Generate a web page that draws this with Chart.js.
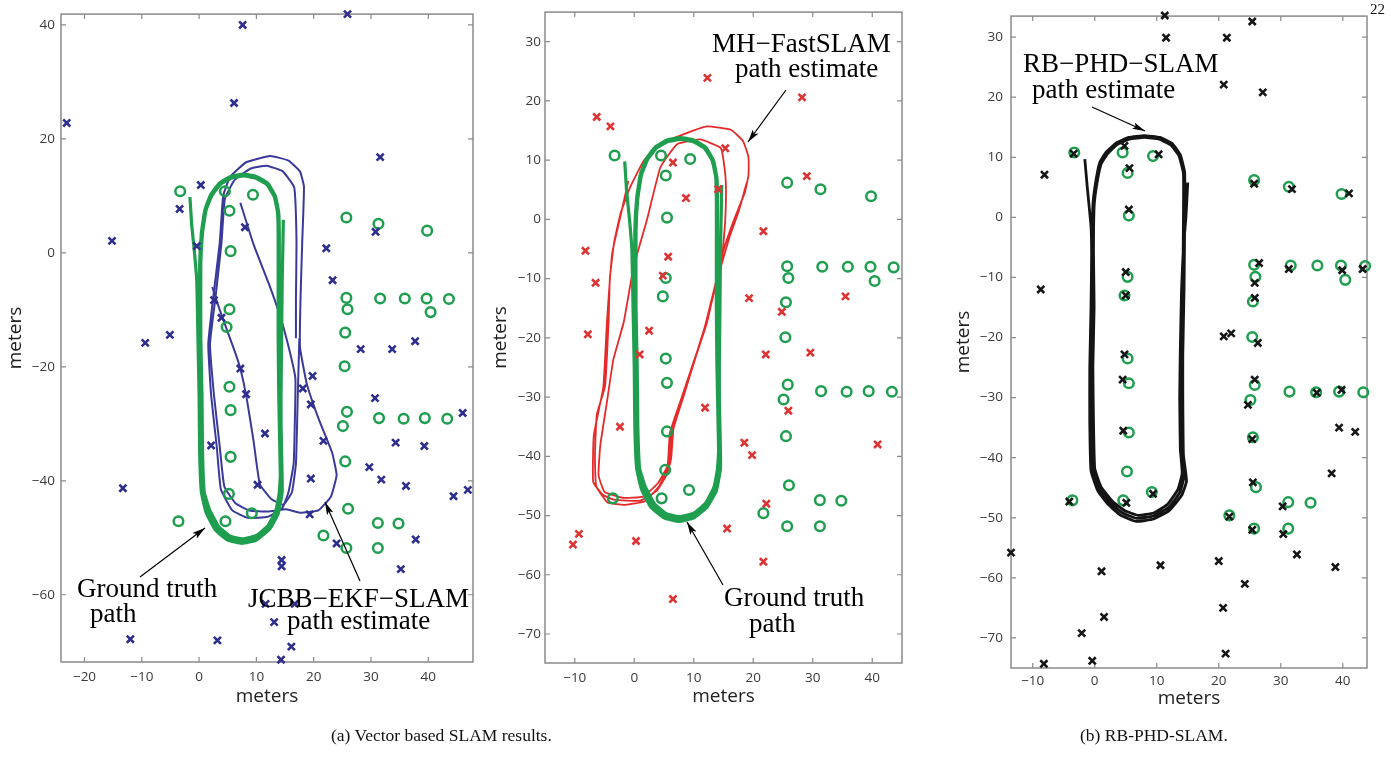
<!DOCTYPE html>
<html>
<head>
<meta charset="utf-8">
<script src="https://cdn.jsdelivr.net/npm/chart.js"></script>
<style>
  body { margin: 0; background: #fff; width: 1391px; height: 758px; overflow: hidden; position: relative; font-family: "Liberation Serif", serif; }
  .layer { position: absolute; left: 0; top: 0; width: 1391px; height: 758px; }
  .note { position: absolute; font-size: 27px; line-height: 27px; white-space: nowrap; color: #000; }
  .cap { position: absolute; font-size: 17.5px; line-height: 17.5px; white-space: nowrap; color: #111; }
</style>
</head>
<body>
<div class="layer"><canvas id="p1"></canvas></div>
<div class="layer"><canvas id="p2"></canvas></div>
<div class="layer"><canvas id="p3"></canvas></div>

<svg class="layer" width="1391" height="758">
  <defs>
    <marker id="ah" markerWidth="13" markerHeight="7" refX="13" refY="3.5" orient="auto" markerUnits="userSpaceOnUse">
      <path d="M0,0 L13,3.5 L0,7 L3,3.5 z" fill="#000"/>
    </marker>
  </defs>
  <line x1="140" y1="577" x2="205" y2="528" stroke="#000" stroke-width="1.2" marker-end="url(#ah)"/>
  <line x1="360" y1="581" x2="325" y2="502" stroke="#000" stroke-width="1.2" marker-end="url(#ah)"/>
  <line x1="786" y1="90" x2="748" y2="142" stroke="#000" stroke-width="1.2" marker-end="url(#ah)"/>
  <line x1="723" y1="585" x2="687" y2="522" stroke="#000" stroke-width="1.2" marker-end="url(#ah)"/>
  <line x1="1092" y1="107" x2="1145" y2="131" stroke="#000" stroke-width="1.2" marker-end="url(#ah)"/>
</svg>

<div class="note" style="left:77px;top:575px">Ground truth</div>
<div class="note" style="left:90px;top:600px">path</div>
<div class="note" style="left:248px;top:585px">JCBB&#8722;EKF&#8722;SLAM</div>
<div class="note" style="left:287px;top:607px">path estimate</div>
<div class="note" style="left:712px;top:30px">MH&#8722;FastSLAM</div>
<div class="note" style="left:735px;top:55px">path estimate</div>
<div class="note" style="left:724px;top:584px">Ground truth</div>
<div class="note" style="left:749px;top:610px">path</div>
<div class="note" style="left:1023px;top:50px">RB&#8722;PHD&#8722;SLAM</div>
<div class="note" style="left:1032px;top:76px">path estimate</div>

<div class="cap" style="left:1370px;top:2px;font-size:15px;line-height:15px">22</div>
<div class="cap" style="left:331px;top:727px">(a) Vector based SLAM results.</div>
<div class="cap" style="left:1080px;top:727px">(b) RB-PHD-SLAM.</div>

<script>
// ground truth landmarks (same in every panel)
const lmX = [-3.3, 4.5, 9.4, 5.3, 5.5, 25.7, 31.3, 39.8, 25.7, 25.9, 31.6, 35.9, 39.7, 43.6, 40.4, 5.3, 4.8, 25.5, 25.4, 5.3,
  5.5, 25.8, 25.1, 31.4, 35.7, 39.4, 43.3, 5.5, 25.5, 5.2, 9.2, 4.6, -3.6, 26.0, 31.2, 34.8, 21.7, 25.7, 31.2];
const lmY = [10.8, 10.8, 10.2, 7.4, 0.3, 6.2, 5.1, 3.9, -7.9, -9.9, -8.0, -8.0, -8.0, -8.1, -10.4, -9.9, -13.0, -14.0, -19.9, -23.5,
  -27.6, -27.9, -30.4, -29.0, -29.1, -29.0, -29.1, -35.8, -36.6, -42.3, -45.7, -47.1, -47.1, -44.9, -47.4, -47.5, -49.6, -51.8, -51.8];

// ground truth path
const gtX = [-1.6, -1.3, -0.8, -0.4, -0.2, 0, 0.1, 0.4, 1.2, 2.8, 5, 7.5, 10, 12.3, 13.8, 14.5, 14.4, 14.2, 14.1, 14, 14, 13.9, 13.3, 12, 10, 7.8, 5.5, 3.5, 2, 1, 0.4, 0.1,
  0.1, 0.3, 0.4, 0.7, 1.5, 3.1, 5.2, 7.5, 10, 12.1, 13.6, 14.2, 14.1, 13.9, 13.8, 13.8, 13.8, 13.7, 13.1, 11.8, 9.9, 7.8, 5.6, 3.7, 2.2, 1.2, 0.6, 0.3,
  0.3, 0.5, 0.6, 0.9, 1.8, 3.4, 5.4, 7.6, 10, 12, 13.4, 14, 14.3, 14.3, 14.4, 14.5, 14.6, 14.7];
const gtY = [9.8, 5, 0, -5, -15, -25, -35, -42, -45.5, -48.6, -50.4, -51, -50.4, -48.5, -45.8, -42, -35, -25, -15, -5, 3, 7, 10, 12.2, 13.4, 13.8, 13.4, 12.2, 10.2, 7.5, 3.5, -2,
  -15, -25, -35, -42, -45.2, -48.3, -50, -50.6, -50, -48.2, -45.5, -42, -35, -25, -15, -5, 3, 7, 9.9, 12, 13.1, 13.5, 13.1, 12, 10, 7.4, 3.5, -2,
  -15, -25, -35, -42, -45, -48, -49.7, -50.2, -49.6, -47.9, -45.2, -42, -35, -25, -15, -5, 0, 5.8];

// JCBB-EKF-SLAM (panel 1)
const jcbbLmX = [7.6, 25.9, 6.1, -23.1, 31.6, 0.3, -3.4, 8.0, 30.8, -15.2, -0.4, 22.2, 23.3, 2.6, 3.9, -5.1, -9.4, 28.2, 33.7, 37.7,
  7.2, 19.8, 8.2, 18.1, 19.5, 30.7, 46.0, 11.5, 2.1, 34.3, 39.3, 21.7, 29.7, 31.8, 36.1, 19.5, 10.2, -13.3, 44.4, 46.9,
  19.3, 37.8, 24.0, 14.4, 14.4, 35.2, 11.6, 16.7, 13.1, -12.0, 3.2, 16.1, 14.3];
const jcbbLmY = [40.0, 41.9, 26.3, 22.8, 16.8, 11.9, 7.7, 4.5, 3.7, 2.1, 1.2, 0.8, -4.8, -8.3, -11.4, -14.4, -15.8, -16.9, -16.9, -15.5,
  -20.3, -21.6, -24.8, -23.8, -26.6, -25.5, -28.1, -31.7, -33.8, -33.3, -33.9, -33.0, -37.6, -39.8, -40.9, -39.6, -40.7, -41.3, -42.7, -41.6,
  -45.9, -50.3, -51.0, -53.9, -55.0, -55.5, -61.6, -61.6, -64.8, -67.8, -68.0, -69.1, -71.4];
const jcbbPathX = [7.2, 9.5, 12.2, 14.1, 15.5, 16.8, 16.7, 16.5, 15.6, 14.5, 12, 8.5, 5.8, 3.8, 3.1, 2.1, 1.6, 2.5, 3.6, 4.2, 5.4, 8.2, 12.4, 15.6, 17.6, 18.3, 18, 17.7,
  17.6, 18.8, 21, 23.2, 24, 23, 20.8, 17.6, 15.2, 12, 8.8, 6.4, 4.4, 3.6, 2.6, 1.9, 2.9, 3.9, 4.5, 6.2, 9, 11.8, 14.6, 16.6, 17, 16.9, 16.9];
const jcbbPathY = [8.8, 1.5, -5.5, -11, -16, -22, -30, -37, -42, -44.8, -46.3, -46.5, -45.2, -41.5, -34.2, -25, -16, -7.5, 1.7, 10, 13.3, 15.9, 17, 16.2, 14.3, 11.6, 2, -8,
  -16.5, -23, -29.5, -35, -39, -42.8, -45.2, -45.6, -45, -45.4, -45.2, -44, -41, -34, -25, -16, -7.5, 1.7, 9.5, 12.8, 14.8, 15.3, 14.3, 11.5, 2, -8, -15];
const jcbbPath2X = [2.3, 3.6, 5, 6.3, 7.2, 8.3, 9.5, 10.6, 12.6, 14.7, 16.2, 16.9, 17.1, 17.3, 17.5];
const jcbbPath2Y = [-6, -10, -13.9, -17.5, -20.3, -25.5, -33, -40.6, -43.2, -44.2, -42, -37, -30, -22, -15];

// MH-FastSLAM (panel 2)
const mhLmX = [12.3, 28.2, -6.3, -4.0, 15.3, 6.5, 29.0, 8.7, 21.7, -8.2, 5.7, 4.8, 19.3, 35.5, 24.8, -7.8, 2.5, -6.5, 14.1,
  0.9, 22.1, 29.6, 25.9, 11.9, -2.4, 18.5, 19.8, 40.9, 22.2, 15.6, -9.3, -10.3, 0.3, 21.7, 6.5];
const mhLmY = [23.9, 20.6, 17.3, 15.7, 12.0, 9.6, 7.3, 3.6, -2.0, -5.3, -6.3, -9.5, -13.3, -13.0, -15.6, -19.4, -18.8, -10.7, 5.1,
  -22.8, -22.8, -22.5, -32.3, -31.8, -35.0, -37.7, -39.8, -38.0, -48.0, -52.2, -53.1, -54.9, -54.3, -57.8, -64.1];
const mhPathX = [-1.0, -2.1, -3.7, -4.6, -5.2, -6.8, -6.9, -5.3, -3.5, 1, 3.8, 5.5, 6.2, 6.6, 8.4, 10.4, 12.2, 15, 16.8, 18.6, 19.2, 19.2, 18.3, 16.3, 12.2, 8.9, 4.4, 1.6, -0.7,
  -2.3, -3.4, -4.1, -4.3, -4.9, -6.3, -6.6, -6.4, -4.5, -1.5, 1.8, 4.2, 5.8, 6.3, 8.2, 10.2, 11.9, 13.5, 14.8, 15.3, 15.4, 15, 14.5, 11.1, 7.2, 4.4,
  2.1, -0.1, -1.8, -3.5, -4.6, -5.7, -6, -5, -2, 1.5, 4, 5.6, 6, 8, 10, 12, 14, 16, 17.6, 18.9];
const mhPathY = [6.5, 1.5, -5.7, -17.5, -28.3, -36.5, -44.3, -46.5, -47.3, -47.5, -45.8, -43, -40.4, -35.3, -29.5, -23, -17.5, -5.2, 0, 4.6, 7.5, 10.5, 13.2, 15.1, 15.7, 14.6, 12.7, 9.9, 5.4,
  1, -4, -10, -17, -28.1, -33, -40, -45, -47.8, -48.2, -47.6, -45, -41.5, -36, -30, -23.5, -18, -11.5, -6, 0, 6, 10, 12.1, 13.5, 12.7, 8.8,
  -0.2, -8, -17.5, -23.6, -30.9, -38.1, -43.2, -46, -47, -46.8, -44.5, -41.6, -36, -30, -24, -18, -10, -3, 1.5, 6.2];

// RB-PHD-SLAM (panel 3)
const phdLmX = [11.3, 11.5, 21.3, 25.4, 20.8, 27.1, -8.1, -3.4, 4.8, 10.3, 5.6, 5.5, 25.7, 31.8, 41.0, 26.5, 31.3, 39.9, 43.2, 25.8,
  25.8, 5.0, 5.0, -8.7, 20.8, 22.0, 26.3, 4.8, 4.5, 25.8, 24.7, 35.8, 39.8, 4.6, 25.4, 39.4, 42.0, 38.2, 25.5, 9.4,
  -4.1, 5.1, 30.3, 21.7, 25.4, 30.4, -13.5, 32.6, 20.0, 10.6, 1.1, 38.8, 24.2, 20.7, 1.5, -2.1, 21.1, -0.4, -8.2];
const phdLmY = [33.6, 29.9, 29.9, 32.6, 22.1, 20.8, 7.1, 10.6, 11.9, 10.5, 8.2, 1.3, 5.6, 4.7, 4.0, -7.6, -8.6, -8.8, -8.6, -10.9,
  -13.4, -9.1, -13.0, -12.0, -19.8, -19.3, -20.9, -22.8, -27.0, -27.0, -31.2, -29.2, -28.7, -35.5, -36.9, -35.0, -35.7, -42.6, -44.1, -46.0,
  -47.3, -47.5, -48.1, -49.8, -52.0, -52.7, -55.8, -56.1, -57.2, -57.9, -58.9, -58.2, -61.0, -65.0, -66.5, -69.2, -72.6, -73.8, -74.3];
const phdPathX = [-1.6, -1.2, -0.6, -0.5, -0.6, -0.8, -0.8, -0.6, 0.5, 2.2, 4.2, 6.7, 9.5, 12, 14, 14.8, 14.3, 14.2, 14.2, 14.4, 14.5, 14.5, 13.8, 12.5, 10.5, 8, 5.5, 3.5, 1.8, 0.8, 0.1, -0.3, -0.4,
  -0.3, -0.5, -0.5, -0.3, 0.7, 2.5, 4.5, 6.8, 9.5, 11.9, 13.7, 14.4, 14, 13.9, 14, 14.2, 14.3, 14.3, 13.6, 12.3, 10.4, 8, 5.6, 3.6, 2, 1, 0.3, -0.1, -0.2,
  -0.1, -0.3, -0.2, 0, 1, 2.8, 4.8, 7, 9.5, 11.7, 13.4, 14.1, 13.8, 13.7, 13.8, 14, 14.3, 14.7, 15];
const phdPathY = [9.7, 5, -1.5, -6.3, -15, -25, -33.9, -42.2, -45.5, -47.8, -49.6, -50.6, -50.2, -48.8, -46.3, -43.9, -39.5, -30, -22.9, -12, -0.8, 7.5, 10.4, 12.3, 13.3, 13.6, 13.3, 12.4, 10.8, 9.1, 5.5, 1.9, -6,
  -15, -25, -34, -42, -45.2, -47.5, -49.2, -50.1, -49.7, -48.3, -45.8, -43.2, -39, -30, -22, -12, -1, 7.3, 10.2, 12, 13, 13.3, 13, 12.1, 10.5, 8.8, 5.3, 1.8, -6,
  -15, -25, -34, -41.8, -44.8, -47.2, -48.8, -49.6, -49.2, -47.8, -45.3, -42.6, -38.5, -30, -22, -12, -5, 0, 5.8];

// axis ranges and ticks
const p1XRange = [-24.1, 47.8], p1YRange = [-71.8, 41.9];
const p1XTicks = [-20, -10, 0, 10, 20, 30, 40], p1YTicks = [-60, -40, -20, 0, 20, 40];
const p2XRange = [-15, 45], p2YRange = [-74.9, 35];
const p2XTicks = [-10, 0, 10, 20, 30, 40], p2YTicks = [-70, -60, -50, -40, -30, -20, -10, 0, 10, 20, 30];
const p3XRange = [-13.5, 43.9], p3YRange = [-75, 33.5];
const p3XTicks = [-10, 0, 10, 20, 30, 40], p3YTicks = [-70, -60, -50, -40, -30, -20, -10, 0, 10, 20, 30];

const GREEN = '#1f9e4f';

function pts(xs, ys) {
  return xs.map((x, i) => ({x: x, y: ys[i]}));
}

// box with inward ticks on all four sides, matlab style
const frame = {
  id: 'frame',
  beforeDatasetsDraw(chart) {
    const {ctx, chartArea: a, scales} = chart;
    ctx.save();
    ctx.strokeStyle = '#8a8a8a';
    ctx.lineWidth = 1.5;
    ctx.strokeRect(a.left, a.top, a.right - a.left, a.bottom - a.top);
    ctx.lineWidth = 1.2;
    ctx.beginPath();
    scales.x.ticks.forEach(t => {
      const px = scales.x.getPixelForValue(t.value);
      ctx.moveTo(px, a.bottom); ctx.lineTo(px, a.bottom - 5);
      ctx.moveTo(px, a.top); ctx.lineTo(px, a.top + 5);
    });
    scales.y.ticks.forEach(t => {
      const py = scales.y.getPixelForValue(t.value);
      ctx.moveTo(a.left, py); ctx.lineTo(a.left + 5, py);
      ctx.moveTo(a.right, py); ctx.lineTo(a.right - 5, py);
    });
    ctx.stroke();
    ctx.restore();
  }
};

function fmt(v) {
  return v < 0 ? '\u2212' + Math.abs(v) : String(v);
}

function marks(data, color, order) {
  return {data: data, pointStyle: 'crossRot', pointRadius: 5, borderWidth: 2.6,
    borderColor: color, backgroundColor: color, clip: false, order: order};
}
function rings(order) {
  return {data: pts(lmX, lmY), pointStyle: 'circle', pointRadius: 4.8, borderWidth: 2.5,
    borderColor: GREEN, backgroundColor: 'rgba(0,0,0,0)', clip: false, order: order};
}
function path(data, color, width, order) {
  return {data: data, showLine: true, pointRadius: 0, borderColor: color, borderWidth: width,
    tension: 0.12, order: order};
}

function makePanel(id, datasets, p) {
  const tickFont = {family: 'Open Sans', size: 13.5};
  const titleFont = {family: 'Open Sans', size: 19};
  new Chart(document.getElementById(id), {
    type: 'scatter',
    data: {datasets: datasets},
    options: {
      responsive: true,
      maintainAspectRatio: false,
      animation: false,
      events: [],
      layout: {padding: p.pad},
      plugins: {legend: {display: false}, tooltip: {enabled: false}},
      scales: {
        x: {
          min: p.xr[0], max: p.xr[1],
          afterBuildTicks: s => { s.ticks = p.xt.map(v => ({value: v})); },
          afterFit: s => { s.height = p.h; },
          grid: {display: false, drawTicks: false},
          border: {display: false},
          ticks: {callback: fmt, color: '#3a3a3a', font: tickFont, padding: p.xpad, maxRotation: 0, autoSkip: false},
          title: {display: true, text: 'meters', color: '#222', font: titleFont, padding: 0}
        },
        y: {
          min: p.yr[0], max: p.yr[1],
          afterBuildTicks: s => { s.ticks = p.yt.map(v => ({value: v})); },
          afterFit: s => { s.width = p.w; },
          grid: {display: false, drawTicks: false},
          border: {display: false},
          ticks: {callback: fmt, color: '#3a3a3a', font: tickFont, padding: p.ypad, autoSkip: false},
          title: {display: true, text: 'meters', color: '#222', font: titleFont, padding: 0}
        }
      }
    },
    plugins: [frame]
  });
}

// Vector based: JCBB-EKF-SLAM
makePanel('p1', [
  marks(pts(jcbbLmX, jcbbLmY), '#2e2e8e', 0),
  rings(1),
  path(pts(gtX, gtY), GREEN, 3.2, 2),
  path(pts(jcbbPathX, jcbbPathY), '#3a3a9a', 2, 3),
  path(pts(jcbbPath2X, jcbbPath2Y), '#3a3a9a', 2, 4)
], {pad: {left: 4, top: 8, right: 918, bottom: 50}, w: 57, h: 46, xpad: 7, ypad: 6,
  xr: p1XRange, yr: p1YRange, xt: p1XTicks, yt: p1YTicks});

// Vector based: MH-FastSLAM
makePanel('p2', [
  marks(pts(mhLmX, mhLmY), '#dd3333', 0),
  rings(1),
  path(pts(gtX, gtY), GREEN, 3.2, 2),
  path(pts(mhPathX, mhPathY), '#e52a2a', 1.8, 3)
], {pad: {left: 489, top: 10, right: 489, bottom: 50}, w: 56, h: 45, xpad: 7, ypad: 4,
  xr: p2XRange, yr: p2YRange, xt: p2XTicks, yt: p2YTicks});

// RB-PHD-SLAM
makePanel('p3', [
  marks(pts(phdLmX, phdLmY), '#161616', 0),
  rings(1),
  path(pts(phdPathX, phdPathY), '#141414', 2.8, 2)
], {pad: {left: 952, top: 12, right: 24, bottom: 48}, w: 59, h: 42, xpad: 5, ypad: 8,
  xr: p3XRange, yr: p3YRange, xt: p3XTicks, yt: p3YTicks});
</script>
</body>
</html>
